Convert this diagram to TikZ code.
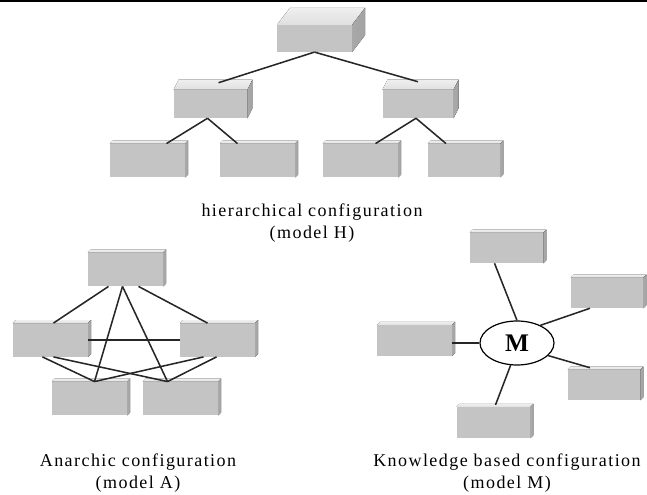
\documentclass[tikz,border=0pt]{standalone}
\usepackage{fontspec}
\setmainfont{Liberation Serif}[LetterSpace=8]
\usetikzlibrary{calc,shapes.geometric}

\definecolor{frontgray}{HTML}{C4C4C4}
\definecolor{topgray}{HTML}{E4E4E4}
\definecolor{sidegray}{HTML}{A2A2A2}

\tikzset{
	slab/.style={rectangle, inner sep=0pt, fill=frontgray, minimum width=56pt, minimum height=25pt},
	link/.style={line width=1.15pt, black!85},
	caption/.style={align=center, font=\fontsize{13.5}{16.5}\selectfont}
}

\begin{document}
\begin{tikzpicture}[x=0.75pt, y=-0.75pt]
	\useasboundingbox (0,0) rectangle (647,495);
	\draw [line width=1.1pt] (0,0.8) -- (647,0.8);

	% hierarchical
	\node [slab, minimum height=20pt] (H0) at (314.5,38.5) {};
	\node [slab, minimum width=55pt, minimum height=21pt] (H1) at (210.5,104) {};
	\node [slab, minimum width=53pt, minimum height=21pt] (H2) at (418,104) {};
	\node [slab] (H3) at (147.5,160.5) {};
	\node [slab] (H4) at (257.5,160.5) {};
	\node [slab] (H5) at (360.5,160.5) {};
	\node [slab, minimum width=54pt] (H6) at (464,160.5) {};

	% anarchic
	\node [slab] (A0) at (125.5,269.5) {};
	\node [slab] (A1) at (50.5,340) {};
	\node [slab] (A2) at (217.5,340) {};
	\node [slab] (A3) at (89.5,398.5) {};
	\node [slab] (A4) at (180.5,398.5) {};

	% knowledge based
	\node [slab, minimum width=55pt, minimum height=22.5pt] (K1) at (506.5,248) {};
	\node [slab, minimum width=54pt, minimum height=22.5pt] (K2) at (607,293) {};
	\node [slab, minimum height=23pt] (K3) at (414.5,340.5) {};
	\node [slab, minimum width=54pt, minimum height=22.5pt] (K4) at (604,385) {};
	\node [slab, minimum width=55pt, minimum height=23pt] (K5) at (493.5,422.5) {};
	\node [ellipse, draw, line width=0.9pt, fill=white, minimum width=55.5pt, minimum height=33pt,
		font=\fontsize{19}{19}\selectfont\bfseries] (M) at (517,343) {M};

	% top and side faces
	\foreach \n/\dx/\dy in {H0/13/17, H1/5/10, H2/5/10, H3/3/3, H4/3/3, H5/3/3, H6/3/3,
		A0/3/3, A1/3/3, A2/3/3, A3/3/3, A4/3/3, K1/3/3, K2/3/3, K3/3/3, K4/3/3, K5/3/3} {
		\fill [top color=topgray!60!white, bottom color=topgray!85!frontgray]
			(\n.north west) -- ++(\dx,-\dy) -- ($(\n.north east)+(\dx,-\dy)$) -- (\n.north east) -- cycle;
		\fill [left color=sidegray!80!frontgray, right color=sidegray]
			(\n.north east) -- ++(\dx,-\dy) -- ($(\n.south east)+(\dx,-\dy)$) -- (\n.south east) -- cycle;
	}

	\draw [link] (H0.south) -- ($(H1.north)+(8,-7)$);
	\draw [link] (H0.south) -- ($(H2.north)+(0,-8)$);
	\draw [link] ($(H1.south)+(-3,0)$) -- ($(H3.north)+(19,0)$);
	\draw [link] ($(H1.south)+(-3,0)$) -- ($(H4.north)+(-20,0)$);
	\draw [link] ($(H2.south)+(-2,0)$) -- ($(H5.north)+(15,0)$);
	\draw [link] ($(H2.south)+(-2,0)$) -- ($(H6.north)+(-18,0)$);

	\draw [link] ($(A0.south)+(-17,0)$) -- ($(A1.north)+(3,0)$);
	\draw [link] ($(A0.south)+(13,0)$) -- ($(A2.north)+(-10,0)$);
	\draw [link] ($(A0.south)+(-3,0)$) -- ($(A3.north)+(5,0)$);
	\draw [link] ($(A0.south)+(-3,0)$) -- ($(A4.north)+(-13,0)$);
	\draw [link] (A1.east) -- (A2.west);
	\draw [link] ($(A1.south)+(-8,0)$) -- ($(A3.north)+(5,0)$);
	\draw [link] ($(A1.south)+(3,0)$) -- ($(A4.north)+(-13,0)$);
	\draw [link] ($(A2.south)+(-14,0)$) -- ($(A3.north)+(5,0)$);
	\draw [link] ($(A2.south)+(-1,0)$) -- ($(A4.north)+(-13,0)$);

	\draw [link] ($(K1.south)+(-12,0)$) -- (M.north);
	\draw [link] (M.37) -- ($(K2.south)+(-17,0)$);
	\draw [link] (K3.east |- M.west) -- (M.west);
	\draw [link] (M.-22) -- ($(K4.north)+(-14,-2)$);
	\draw [link] (M.-106) -- ($(K5.north)+(2,-2)$);

	\node [caption] (Hcap) at (312,223) {hierarchical configuration\\(model H)};
	\node [caption] (Acap) at (138,473) {Anarchic configuration\\(model A)};
	\node [caption] (Kcap) at (507,473) {Knowledge based configuration\\(model M)};
\end{tikzpicture}
\end{document}
